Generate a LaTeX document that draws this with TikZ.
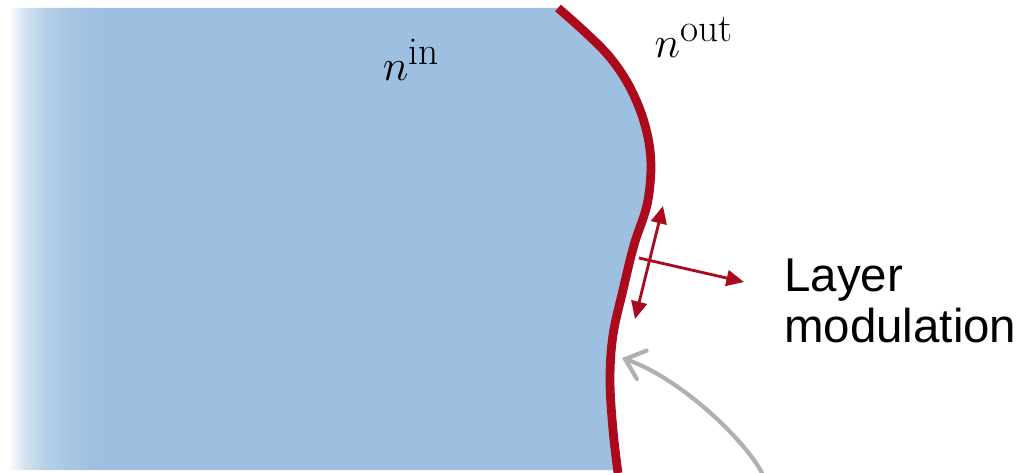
\documentclass[tikz,border=0pt]{standalone}
\usepackage{fontspec}
\setsansfont{Liberation Sans}
\usepackage{tikz}
\usetikzlibrary{arrows.meta,positioning}

\definecolor{bulkblue}{RGB}{158,192,224}
\definecolor{layerred}{RGB}{170,10,28}
\definecolor{hintgray}{RGB}{176,176,176}
\pgfdeclarehorizontalshading{bulkfade}{100bp}{color(0bp)=(white); color(25bp)=(white); color(26.3bp)=(bulkblue!45!white); color(28bp)=(bulkblue!78!white); color(30.4bp)=(bulkblue!94!white); color(32.2bp)=(bulkblue); color(100bp)=(bulkblue)}

\begin{document}
\begin{tikzpicture}[
x=0.02cm, y=-0.02cm,
layer/.style={draw=layerred, line width=5pt},
modarr/.style={draw=layerred, line width=1.6pt, {Triangle[length=10pt,width=9pt]}-{Triangle[length=10pt,width=9pt]}},
outarr/.style={draw=layerred, line width=1.6pt, -{Triangle[length=10pt,width=9pt]}},
hintarr/.style={draw=hintgray, line width=2.4pt, line cap=round, -{Straight Barb[length=10pt,width=17pt,line cap=round]}},
mathlabel/.style={font=\fontsize{32}{36}\selectfont, inner sep=0pt},
textlabel/.style={font=\sffamily\fontsize{27}{28.5}\selectfont, align=left, inner sep=0pt, anchor=north west}
]
\useasboundingbox (0,0) rectangle (1022,473);

% bulk with its fading left edge
\shade[shading=bulkfade] (8,8) -- plot[smooth, tension=0.6] coordinates {(558,8) (608,55) (636,100) (650,150) (648,200) (634,245) (623,290) (613,335) (610,380) (613,430) (618,473)} -- (618,470) -- (8,470) -- cycle;

% the layer
\draw[layer] plot[smooth, tension=0.6] coordinates {(558,8) (608,55) (636,100) (650,150) (648,200) (634,245) (623,290) (613,335) (610,380) (613,430) (618,473)};

% labels
\node[mathlabel] (nin) at (411,60) {$n^{\mathrm{in}}$};
\node[mathlabel] (nout) at (694,37) {$n^{\mathrm{out}}$};
\node[textlabel] (modtext) at (784,259) {Layer\\modulation};

% modulation arrows
\coordinate (modtop) at (663,206);
\coordinate (modbot) at (635,319);
\coordinate (modfoot) at (639,258);
\coordinate (modtip) at (744,282);
\draw[modarr] (modbot) -- (modtop);
\draw[outarr] (modfoot) -- (modtip);

% incoming arrow
\coordinate (hintfoot) at (762,473);
\coordinate (hinttip) at (622,358);
\draw[hintarr] (hintfoot) .. controls (745,440) and (680,378) .. (hinttip);
\end{tikzpicture}
\end{document}
